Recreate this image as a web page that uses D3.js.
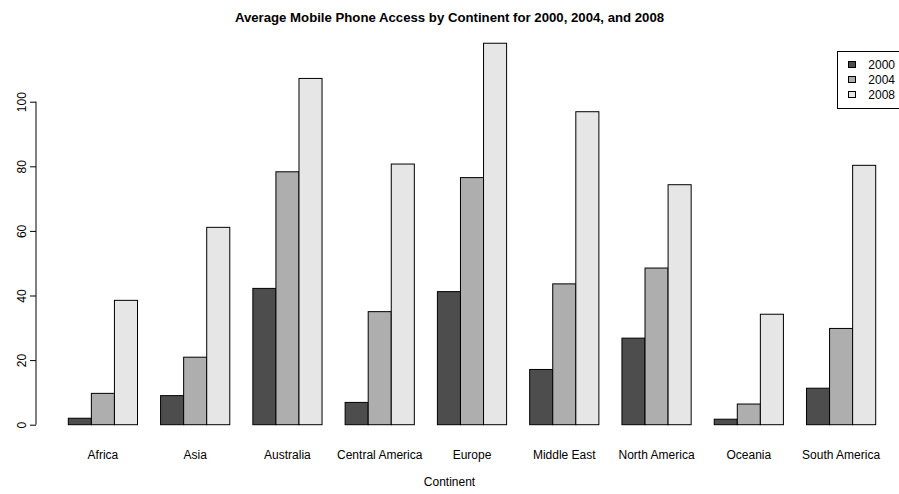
<!DOCTYPE html>
<html>
<head>
<meta charset="utf-8">
<script src="https://cdn.jsdelivr.net/npm/d3@7"></script>
<style>
  html, body { margin: 0; padding: 0; background: #fff; }
  svg { display: block; font-family: "Liberation Sans", Arial, Helvetica, sans-serif; }
</style>
</head>
<body>
<svg id="chart" width="899" height="494"></svg>
<script>
// Continents along the x axis
const continents = ["Africa", "Asia", "Australia", "Central America", "Europe",
  "Middle East", "North America", "Oceania", "South America"];
const years = ["2000", "2004", "2008"];

// Average mobile phone access per continent, one array per year
const access2000 = [2.0, 9.0, 42.2, 6.9, 41.2, 17.1, 26.8, 1.7, 11.3];
const access2004 = [9.7, 20.9, 78.3, 35.0, 76.5, 43.6, 48.5, 6.4, 29.8];
const access2008 = [38.5, 61.1, 107.2, 80.7, 118.1, 96.9, 74.3, 34.2, 80.3];

const yTicks = [0, 20, 40, 60, 80, 100];
const fills = ["#4D4D4D", "#AEAEAE", "#E6E6E6"];

const series = [access2000, access2004, access2008];

const svg = d3.select("#chart");
const fs = 12;            // base font size
const fsTitle = 13.2;     // title font size

// Bar slots: each continent uses 3 bars + 1 gap (R barplot space = c(0, 1))
const x = d3.scaleLinear().domain([1, 36]).range([68.3, 875.7]);
const y = d3.scaleLinear().domain([0, 100]).range([424.7, 101.7]);

const bars = [];
continents.forEach((c, i) => {
  series.forEach((s, j) => {
    const left = 1 + 4 * i + j;
    bars.push({ c, j, left, v: s[i] });
  });
});

svg.append("g").selectAll("rect")
  .data(bars)
  .join("rect")
  .attr("x", d => x(d.left))
  .attr("y", d => y(d.v))
  .attr("width", d => x(d.left + 1) - x(d.left))
  .attr("height", d => y(0) - y(d.v))
  .attr("fill", d => fills[d.j])
  .attr("stroke", "#000")
  .attr("stroke-width", 1);

// Y axis (labels parallel to the axis, as in base R)
const axisX = x(-0.4);
const yAxis = d3.axisLeft(y).tickValues(yTicks).tickSize(6).tickPadding(4)
  .tickFormat(d3.format("d"));
const gy = svg.append("g").attr("transform", `translate(${axisX},0)`).call(yAxis);
gy.select(".domain").attr("d", `M0,${y(0)}V${y(100)}`).attr("stroke", "#000");
gy.selectAll(".tick line").attr("stroke", "#000");
gy.selectAll(".tick text")
  .attr("x", null).attr("dy", null)
  .attr("text-anchor", "middle")
  .attr("font-size", fs)
  .attr("fill", "#000")
  .attr("font-family", "Liberation Sans, Arial, sans-serif")
  .attr("transform", `translate(${26 - axisX},0) rotate(-90)`);

// Category labels under each group
svg.append("g").selectAll("text")
  .data(continents)
  .join("text")
  .attr("x", (d, i) => x(2.5 + 4 * i))
  .attr("y", 458.5)
  .attr("text-anchor", "middle")
  .attr("font-size", fs)
  .attr("fill", "#000")
  .text(d => d);

// Axis title
svg.append("text")
  .attr("x", 449.5).attr("y", 485.5)
  .attr("text-anchor", "middle")
  .attr("font-size", fs)
  .text("Continent");

// Main title
svg.append("text")
  .attr("x", 449.5).attr("y", 22)
  .attr("text-anchor", "middle")
  .attr("font-size", fsTitle)
  .attr("font-weight", "bold")
  .text("Average Mobile Phone Access by Continent for 2000, 2004, and 2008");

// Legend
const lg = svg.append("g");
lg.append("rect")
  .attr("x", 837.5).attr("y", 51.5)
  .attr("width", 80).attr("height", 57)
  .attr("fill", "#fff").attr("stroke", "#000").attr("stroke-width", 1);
years.forEach((yr, j) => {
  const cy = 64.5 + 15 * j;
  lg.append("rect")
    .attr("x", 848.5).attr("y", cy - 3)
    .attr("width", 7).attr("height", 6)
    .attr("fill", fills[j]).attr("stroke", "#000").attr("stroke-width", 1);
  lg.append("text")
    .attr("x", 868.3).attr("y", cy + 4.3)
    .attr("font-size", fs)
    .attr("fill", "#000")
    .text(yr);
});
</script>
</body>
</html>
